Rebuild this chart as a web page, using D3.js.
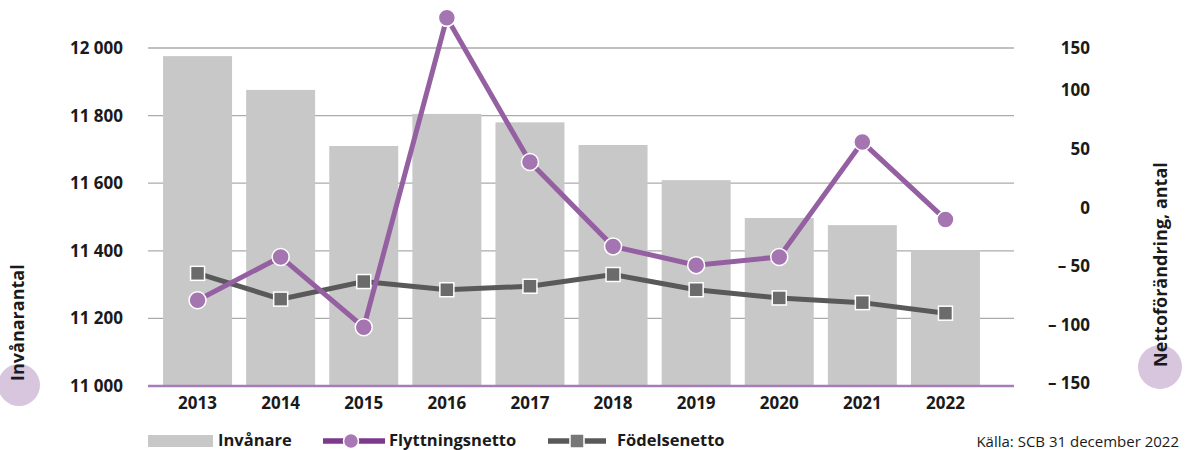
<!DOCTYPE html>
<html>
<head>
<meta charset="utf-8">
<script src="https://cdn.jsdelivr.net/npm/d3@7"></script>
<style>
  body { margin: 0; background: #fff; }
  svg text { font-family: "Open Sans", sans-serif; }
</style>
</head>
<body>
<div id="chart"></div>
<script>
// data
var years = ["2013", "2014", "2015", "2016", "2017", "2018", "2019", "2020", "2021", "2022"];
var invanare = [11976, 11876, 11710, 11805, 11780, 11713, 11609, 11497, 11476, 11402];
var flyttningsnetto = [-79, -42, -102, 162, 39, -33, -49, -42, 56, -10];
var fodelsenetto = [-56, -78, -63, -70, -67, -57, -70, -77, -81, -90];
var leftTicks = [11000, 11200, 11400, 11600, 11800, 12000];
var rightTicks = [-150, -100, -50, 0, 50, 100, 150];

var w = 1186;
var h = 450;

var sv = d3.formatLocale({ decimal: ",", thousands: " ", grouping: [3], currency: ["", ""], minus: "\u2013 " });

var svg = d3.select("#chart")
            .append("svg")
            .attr("width", w)
            .attr("height", h);

var x = d3.scaleBand().domain(years).range([156, 987]).paddingInner(0.17).paddingOuter(0.085);
var yL = d3.scaleLinear().domain([11000, 12000]).range([386, 48]);
var yR = d3.scaleLinear().domain([-150, 150]).range([383.5, 31.9]);

// gridlines
svg.selectAll("line.grid")
  .data(leftTicks.slice(1))
  .enter()
  .append("line")
    .attr("x1", 148)
    .attr("x2", 1014)
    .attr("y1", function(d){ return yL(d); })
    .attr("y2", function(d){ return yL(d); })
    .attr("stroke", "#ababab")
    .attr("stroke-width", 1.3);

// bars
svg.selectAll("rect.bar")
  .data(invanare)
  .enter()
  .append("rect")
    .attr("x", function(d, i){ return x(years[i]); })
    .attr("y", function(d){ return yL(d); })
    .attr("width", x.bandwidth())
    .attr("height", function(d){ return yL(11000) - yL(d); })
    .attr("fill", "#c8c8c8");

// bottom line
svg.append("line")
  .attr("x1", 148).attr("x2", 1014)
  .attr("y1", yL(11000)).attr("y2", yL(11000))
  .attr("stroke", "#a67db6")
  .attr("stroke-width", 2.5);

// left axis
var gL = svg.append("g")
  .attr("transform", "translate(123,0)")
  .call(d3.axisLeft(yL).tickValues(leftTicks).tickSize(0).tickPadding(0).tickFormat(sv.format(",")));
gL.select(".domain").remove();
gL.selectAll("text")
  .attr("font-size", "17px")
  .attr("font-weight", "bold")
  .attr("fill", "#1a1a1a");

// right axis
var gR = svg.append("g")
  .attr("transform", "translate(1090,0)")
  .call(d3.axisLeft(yR).tickValues(rightTicks).tickSize(0).tickPadding(0).tickFormat(sv.format("d")));
gR.select(".domain").remove();
gR.selectAll("text")
  .attr("font-size", "17px")
  .attr("font-weight", "bold")
  .attr("fill", "#1a1a1a");
// top label sits a bit lower in the original
gR.selectAll(".tick").filter(function(d){ return d === 150; })
  .select("text").attr("y", 16);

// x axis labels
var gX = svg.append("g")
  .attr("transform", "translate(0,397)")
  .call(d3.axisBottom(x).tickSize(0).tickPadding(0));
gX.select(".domain").remove();
gX.selectAll("text")
  .attr("font-size", "17px")
  .attr("font-weight", "bold")
  .attr("fill", "#1a1a1a");

var cx = function(d, i){ return x(years[i]) + x.bandwidth() / 2; };

// Födelsenetto line
var lineF = d3.line()
  .x(function(d, i){ return cx(d, i); })
  .y(function(d){ return yR(d); });

svg.append("path")
  .datum(fodelsenetto)
  .attr("d", lineF)
  .attr("fill", "none")
  .attr("stroke", "#595959")
  .attr("stroke-width", 5);

svg.selectAll("rect.sq")
  .data(fodelsenetto)
  .enter()
  .append("rect")
    .attr("x", function(d, i){ return cx(d, i) - 7; })
    .attr("y", function(d){ return yR(d) - 7; })
    .attr("width", 14)
    .attr("height", 14)
    .attr("fill", "#6b6b6b")
    .attr("stroke", "#fff")
    .attr("stroke-width", 1.5);

// Flyttningsnetto line
svg.append("path")
  .datum(flyttningsnetto)
  .attr("d", lineF)
  .attr("fill", "none")
  .attr("stroke", "#9560a2")
  .attr("stroke-width", 5);

svg.selectAll("circle.pt")
  .data(flyttningsnetto)
  .enter()
  .append("circle")
    .attr("cx", function(d, i){ return cx(d, i); })
    .attr("cy", function(d){ return yR(d); })
    .attr("r", 8.5)
    .attr("fill", "#a475b1")
    .attr("stroke", "#fff")
    .attr("stroke-width", 1.5);

// axis titles with circles
svg.append("circle").attr("cx", 19).attr("cy", 385).attr("r", 21).attr("fill", "#d8c6df");
svg.append("text")
  .attr("transform", "translate(24,381) rotate(-90)")
  .attr("font-size", "18px")
  .attr("font-weight", "bold")
  .attr("fill", "#1a1a1a")
  .text("Invånarantal");

svg.append("circle").attr("cx", 1160).attr("cy", 367).attr("r", 22).attr("fill", "#d8c6df");
svg.append("text")
  .attr("transform", "translate(1167,367) rotate(-90)")
  .attr("font-size", "18px")
  .attr("font-weight", "bold")
  .attr("fill", "#1a1a1a")
  .text("Nettoförändring, antal");

// legend
var lg = svg.append("g");
lg.append("rect").attr("x", 148).attr("y", 435).attr("width", 65).attr("height", 12).attr("fill", "#c8c8c8");
lg.append("text").attr("x", 218).attr("y", 446).text("Invånare");

lg.append("line").attr("x1", 323).attr("x2", 385).attr("y1", 441).attr("y2", 441)
  .attr("stroke", "#7d3a8d").attr("stroke-width", 5.5);
lg.append("circle").attr("cx", 351).attr("cy", 441).attr("r", 7.5).attr("fill", "#a878b5").attr("stroke", "#fff").attr("stroke-width", 1.5);
lg.append("text").attr("x", 389).attr("y", 446).text("Flyttningsnetto");

lg.append("line").attr("x1", 548).attr("x2", 606).attr("y1", 441).attr("y2", 441)
  .attr("stroke", "#595959").attr("stroke-width", 5.5);
lg.append("rect").attr("x", 570).attr("y", 434).attr("width", 14).attr("height", 14).attr("fill", "#777").attr("stroke", "#fff").attr("stroke-width", 1.5);
lg.append("text").attr("x", 617).attr("y", 446).text("Födelsenetto");

lg.selectAll("text")
  .attr("font-size", "16.5px")
  .attr("font-weight", "bold")
  .attr("fill", "#1a1a1a");

svg.append("text")
  .attr("x", 1179)
  .attr("y", 447)
  .attr("text-anchor", "end")
  .attr("font-size", "15px")
  .attr("fill", "#1a1a1a")
  .text("Källa: SCB 31 december 2022");
</script>
</body>
</html>
